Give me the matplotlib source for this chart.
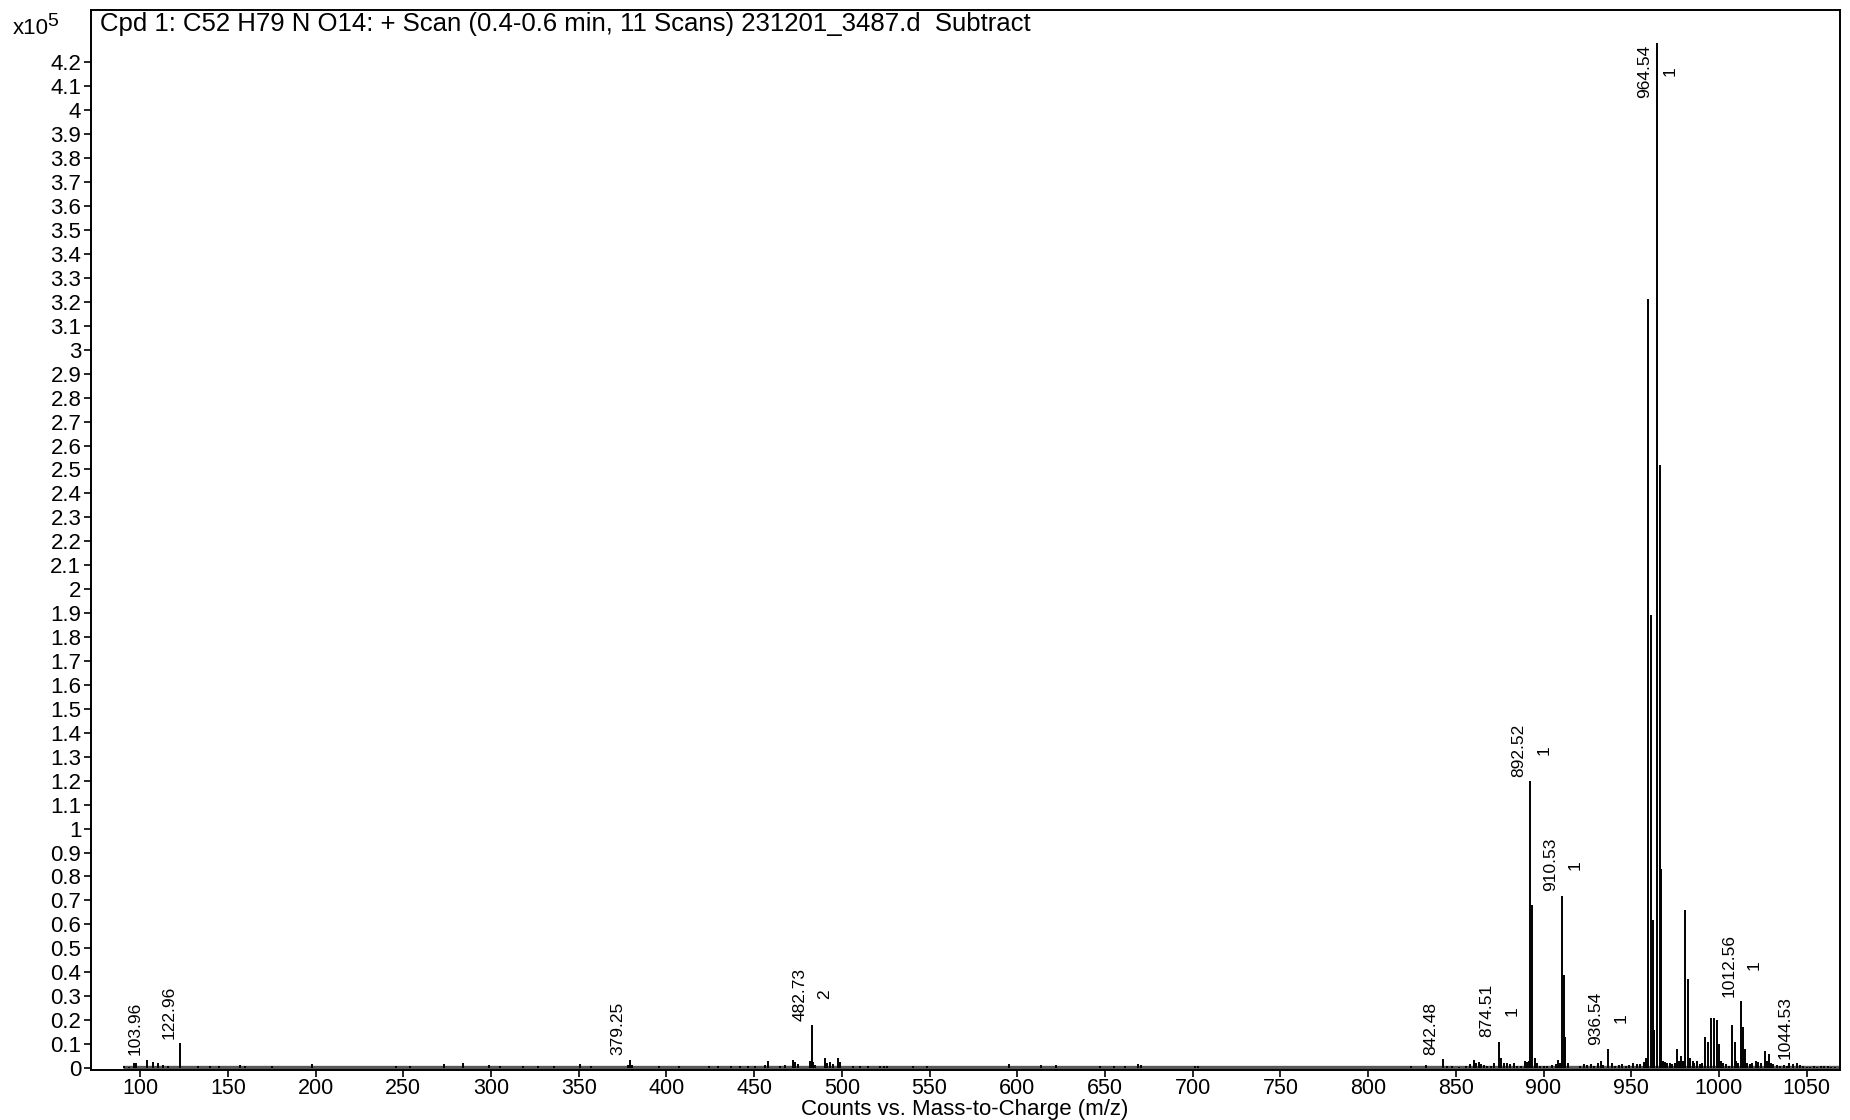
import matplotlib
matplotlib.use("Agg")
import matplotlib.pyplot as plt
from matplotlib.ticker import FuncFormatter

plt.rcParams['font.family'] = ['Liberation Sans', 'DejaVu Sans']

# peak list: m/z and counts (x10^5)
mz = [91, 93.5, 96.5, 97.5, 103.96, 107.5, 110, 113, 116, 122.96, 133, 140, 145, 157, 160, 175, 198,
      246, 254, 273, 284, 299, 305, 318, 327, 336, 351, 357, 378, 379.25, 380.3, 396, 407,
      424, 429.6, 437, 442, 446.7, 450.5, 456, 458.1, 464.7, 467.6, 472.3, 473.3, 475.2,
      481.8, 482.73, 483.7, 484.7, 490.4, 491.3, 493.2, 495.1, 498, 498.9, 506.5, 510.3, 515,
      522, 524, 526, 540.4, 548.7, 595.5, 613.5, 621.9, 646.9, 655.3, 661.6, 668.7, 670.3,
      701.3, 703.3, 824.6, 832.9, 842.48, 845, 848, 852, 856, 858, 860.5, 861.5, 863, 864.5,
      866, 868, 870, 872, 874.51, 876, 877.5, 879, 881, 883, 885, 887, 889.5, 890.7, 891.5,
      892.52, 893.5, 895, 896, 898, 900, 902, 905, 907, 908.5, 909.3, 910.53, 911.5, 912.5,
      914, 921, 923, 925, 927, 929, 931, 932.5, 934, 936.54, 939, 941, 943, 945, 947, 949,
      951, 953, 955, 957, 958.3, 959.5, 961.0, 962.3, 963.2, 964.54, 966.3, 967.1,
      968, 969, 970.5, 972, 973.5, 975, 976.2, 977.3, 978.5, 979.5, 980.8, 982.3, 983.5,
      985, 986, 987.5, 989, 990.5, 991.8, 993.7, 995.6, 997.1, 998.8, 999.9, 1001, 1002.5,
      1004, 1005.5, 1007.4, 1008.9, 1010, 1011, 1012.56, 1013.6, 1015, 1016, 1017.5, 1019,
      1021, 1022.5, 1024, 1026.4, 1027.3, 1028.3, 1029.5, 1031, 1033, 1035, 1037, 1039,
      1040.2, 1042, 1044.53, 1046, 1048, 1050, 1052, 1054, 1056, 1058, 1060, 1062, 1064, 1066]
counts = [0.008, 0.006, 0.02, 0.02, 0.035, 0.025, 0.02, 0.012, 0.01, 0.105, 0.008, 0.01, 0.01, 0.012, 0.01, 0.008, 0.015,
          0.008, 0.008, 0.015, 0.022, 0.012, 0.008, 0.01, 0.01, 0.008, 0.015, 0.008, 0.012, 0.035, 0.012, 0.008, 0.01,
          0.008, 0.008, 0.008, 0.008, 0.008, 0.01, 0.012, 0.03, 0.01, 0.012, 0.035, 0.025, 0.015,
          0.03, 0.18, 0.025, 0.012, 0.04, 0.02, 0.025, 0.015, 0.04, 0.025, 0.01, 0.01, 0.01,
          0.008, 0.008, 0.008, 0.01, 0.01, 0.015, 0.012, 0.012, 0.008, 0.01, 0.008, 0.015, 0.012,
          0.01, 0.008, 0.01, 0.012, 0.038, 0.01, 0.008, 0.006, 0.01, 0.015, 0.035, 0.02, 0.025, 0.015,
          0.012, 0.008, 0.01, 0.02, 0.11, 0.04, 0.02, 0.02, 0.015, 0.02, 0.01, 0.01, 0.03, 0.025, 0.03,
          1.20, 0.68, 0.04, 0.02, 0.01, 0.01, 0.008, 0.012, 0.015, 0.035, 0.02, 0.72, 0.39, 0.13,
          0.02, 0.01, 0.015, 0.012, 0.015, 0.01, 0.02, 0.03, 0.012, 0.08, 0.02, 0.01, 0.012, 0.015, 0.01, 0.012,
          0.02, 0.015, 0.018, 0.025, 0.04, 3.21, 1.89, 0.62, 0.16, 4.28, 2.52, 0.83,
          0.03, 0.025, 0.02, 0.02, 0.015, 0.02, 0.08, 0.03, 0.05, 0.03, 0.66, 0.37, 0.04,
          0.03, 0.02, 0.03, 0.015, 0.02, 0.13, 0.11, 0.21, 0.21, 0.20, 0.10, 0.03, 0.02,
          0.015, 0.01, 0.18, 0.11, 0.03, 0.02, 0.28, 0.17, 0.08, 0.02, 0.015, 0.02,
          0.03, 0.025, 0.02, 0.07, 0.03, 0.06, 0.02, 0.015, 0.012, 0.01, 0.012, 0.01,
          0.02, 0.015, 0.02, 0.012, 0.008, 0.006, 0.006, 0.008, 0.006, 0.008, 0.01, 0.008, 0.006, 0.006]

# annotated peaks and their charge states
label_mz = [103.96, 122.96, 379.25, 482.73, 842.48, 874.51, 892.52, 910.53, 936.54, 964.54, 1012.56, 1044.53]
label_charge = [None, None, None, "2", None, "1", "1", "1", "1", "1", "1", None]

x_ticks = list(range(100, 1051, 50))
y_ticks = [i / 10 for i in range(0, 43)]

title = "Cpd 1: C52 H79 N O14: + Scan (0.4-0.6 min, 11 Scans) 231201_3487.d  Subtract"

fig = plt.figure(figsize=(18.5, 11.2), dpi=100)
ax = fig.add_axes([91 / 1850, 1 - 1070 / 1120, 1749 / 1850, 1060 / 1120])

ax.set_xlim(72, 1069)
ax.set_ylim(-0.0084, 4.419)

# noise baseline
ax.hlines(0.004, 90, 1069, color="#585858", linewidth=2.4, zorder=2)
ax.vlines(mz, 0, counts, color="black", linewidth=1.4, zorder=3)

ax.set_xticks(x_ticks)
ax.set_yticks(y_ticks)
ax.yaxis.set_major_formatter(FuncFormatter(lambda v, p: f"{round(v, 1):g}"))
ax.tick_params(direction="out", length=5, width=1.2, labelsize=16, pad=2)
ax.tick_params(axis="x", pad=1, labelsize=15.5)
for sp in ax.spines.values():
    sp.set_linewidth(1.4)

renderer = fig.canvas.get_renderer()
for m, ch in zip(label_mz, label_charge):
    h = counts[mz.index(m)]
    if h > 4:
        t = ax.annotate(f"{m:.2f}", xy=(m, h), xytext=(-3, -1), textcoords="offset points",
                        rotation=90, ha="right", va="top", fontsize=12.5)
    else:
        t = ax.annotate(f"{m:.2f}", xy=(m, h), xytext=(-3, 3), textcoords="offset points",
                        rotation=90, ha="right", va="bottom", fontsize=12.5)
    if ch:
        bb = t.get_window_extent(renderer)
        px = ax.transData.transform((m, h))[0]
        x, y = ax.transData.inverted().transform((px + 6, (bb.y0 + bb.y1) / 2))
        ax.text(x, y, ch, rotation=90, ha="left", va="center", fontsize=12.5)

fig.text(100 / 1850, 1 - 24 / 1120, title, va="center", ha="left", fontsize=18.5)
fig.text(13 / 1850, 1 - 29 / 1120, "x10", va="center", ha="left", fontsize=16)
fig.text(47 / 1850, 1 - 21 / 1120, "5", va="center", ha="left", fontsize=14)
fig.text(965 / 1850, 1 - 1109 / 1120, "Counts vs. Mass-to-Charge (m/z)", va="center", ha="center", fontsize=16)

fig.savefig("out.png", dpi=100)
